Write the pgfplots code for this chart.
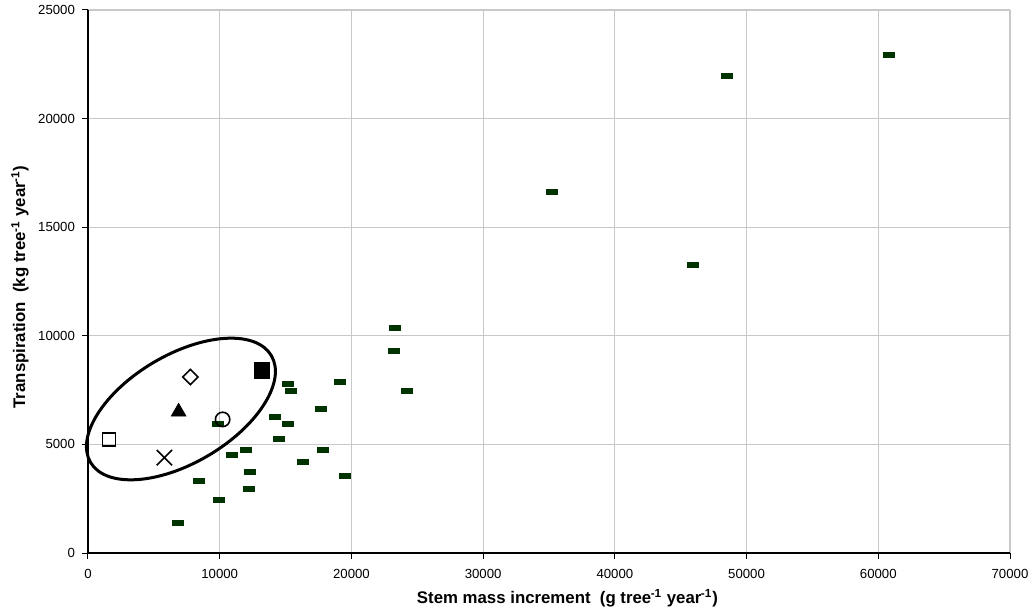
\documentclass[border=0pt]{standalone}
\usepackage{fontspec}
\setmainfont{Liberation Sans}
\usepackage{pgfplots}
\pgfplotsset{compat=1.18}
\definecolor{dgreen}{HTML}{003300}
\definecolor{gridgray}{HTML}{C8C8C8}
\newcommand{\sups}[1]{\textsuperscript{\kern-0.05em#1}}
\begin{document}
\begin{tikzpicture}
\begin{axis}[
  scale only axis, width=461pt, height=271.5pt,
  xmin=0, xmax=70000, ymin=0, ymax=25000,
  xtick={0,10000,20000,30000,40000,50000,60000,70000},
  ytick={0,5000,10000,15000,20000,25000},
  scaled ticks=false,
  /pgf/number format/1000 sep={},
  /pgf/number format/assume math mode=true,
  axis x line=bottom, axis y line=left,
  axis line style={-, line width=0.6pt, black},
  tick align=outside, major tick length=3pt,
  tick style={black, line width=0.5pt},
  grid=major,
  major grid style={gridgray, line width=0.6pt},
  tick label style={font=\fontsize{6.6}{7}\selectfont},
  xticklabel style={yshift=-1.5pt},
  xlabel={\textbf{Stem mass increment\ \ (g tree\sups{-1} year\sups{-1})}},
  ylabel={\textbf{Transpiration\ \ (kg tree\sups{-1} year\sups{-1})}},
  label style={font=\fontsize{8.4}{9}\selectfont},
  xlabel style={at={(axis description cs:0.52,-0.083)}, anchor=center},
  ylabel style={at={(axis description cs:-0.0738,0.49)}, anchor=center, rotate=0},
  clip=false,
]
\addplot[only marks, mark=square*, mark size=1.25pt, color=dgreen, mark options={xscale=2.2}] coordinates {
(23300,10380) (23200,9300) (24200,7480) (19100,7900) (15200,7770) (15400,7470)
(17700,6630) (14200,6260) (15200,5940) (9900,5950) (14500,5250) (12000,4740)
(17800,4740) (10900,4500) (16300,4190) (19500,3530) (12300,3740) (8400,3320)
(12200,2950) (9950,2440) (6800,1390) (35200,16620) (45900,13260) (48500,21980)
(60800,22930)
};
\addplot[only marks, mark=square, mark size=3.25pt, black, mark options={line width=0.8pt}] coordinates {(1600,5230)};
\addplot[only marks, mark=x, mark size=5.4pt, black, mark options={line width=0.8pt}] coordinates {(5800,4390)};
\addplot[only marks, mark=triangle*, mark size=4.2pt, black] coordinates {(6880,6500)};
\addplot[only marks, mark=square, mark size=2.7pt, black, mark options={rotate=45, line width=0.8pt}] coordinates {(7770,8100)};
\addplot[only marks, mark=o, mark size=3.6pt, black, mark options={line width=0.8pt}] coordinates {(10220,6150)};
\addplot[only marks, mark=square*, mark size=3.9pt, black] coordinates {(13200,8400)};
\coordinate (ec) at (axis cs:7056,6630);
\coordinate (ll) at (rel axis cs:0,0);
\coordinate (ur) at (rel axis cs:1,1);
\end{axis}
\draw[line width=1.5pt, rotate around={30.6:(ec)}] (ec) ellipse [x radius=52.5pt, y radius=27pt];
\pgfresetboundingbox
\path[use as bounding box] ([shift={(-44pt,-29pt)}]ll) rectangle ([shift={(11.5pt,5pt)}]ur);
\end{tikzpicture}
\end{document}
